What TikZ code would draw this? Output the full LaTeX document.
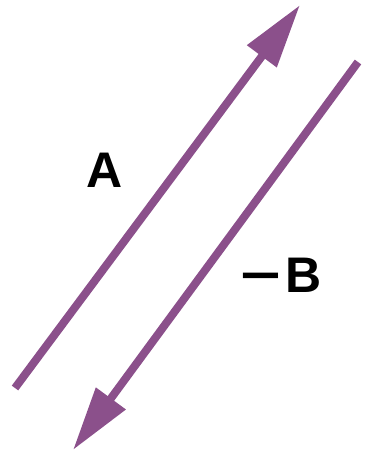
\documentclass[tikz,border=0pt]{standalone}
\usepackage{fontspec}
\setmainfont{Liberation Sans}
\usetikzlibrary{arrows.meta}
\definecolor{vecpurple}{RGB}{139,80,139}
\tikzset{
	vec/.style={draw=vecpurple, line width=8pt, -{Triangle[length=64pt, width=35pt]}},
	veclabel/.style={font=\fontsize{50}{60}\selectfont\bfseries, inner sep=0pt}
}
\begin{document}
\begin{tikzpicture}[x=1pt, y=-1pt]
			\useasboundingbox (0,0) rectangle (366,455);
			\coordinate (atail) at (15,388);
			\coordinate (ahead) at (300,5);
			\coordinate (btail) at (358,62);
			\coordinate (bhead) at (73,450);
			\draw[vec] (atail) -- (ahead);
			\draw[vec] (btail) -- (bhead);
			\node[veclabel] (alabel) at (105,170) {A};
			\node[veclabel] (blabel) at (281,275) {\scalebox{1.4}[1]{−}\hspace{4pt}B};
		\end{tikzpicture}
\end{document}
